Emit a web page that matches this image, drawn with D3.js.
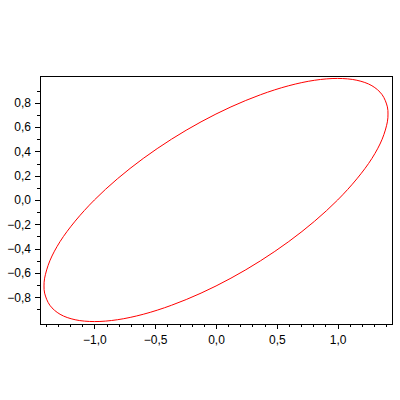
<!DOCTYPE html>
<html>
<head>
<meta charset="utf-8">
<script src="https://cdn.jsdelivr.net/npm/d3@7"></script>
<style>
  html, body { margin: 0; padding: 0; background: #fff; }
  svg { display: block; }
  .tick text { font-family: "Liberation Sans", Arial, sans-serif; font-size: 12px; fill: #000; }
</style>
</head>
<body>
<svg id="chart" width="400" height="400"></svg>
<script>
// Curve points (closed loop)
const curveX = [1.000, 1.158, 1.282, 1.366, 1.409, 1.414, 1.409, 1.366, 1.282, 1.158, 1.000, 0.811, 0.598, 0.366, 0.123, -0.123, -0.366, -0.598, -0.811,
                -1.000, -1.158, -1.282, -1.366, -1.409, -1.414, -1.409, -1.366, -1.282, -1.158, -1.000, -0.811, -0.598, -0.366, -0.123, 0.123, 0.366, 0.598, 0.811];
const curveY = [0.000, 0.174, 0.342, 0.500, 0.643, 0.707, 0.766, 0.866, 0.940, 0.985, 1.000, 0.985, 0.940, 0.866, 0.766, 0.643, 0.500, 0.342, 0.174,
                0.000, -0.174, -0.342, -0.500, -0.643, -0.707, -0.766, -0.866, -0.940, -0.985, -1.000, -0.985, -0.940, -0.866, -0.766, -0.643, -0.500, -0.342, -0.174];

// Tick values and labels
const xMajorTicks = [-1.0, -0.5, 0.0, 0.5, 1.0];
const xMinorTicks = [-1.4, -1.3, -1.2, -1.1, -0.9, -0.8, -0.7, -0.6, -0.4, -0.3, -0.2, -0.1, 0.1, 0.2, 0.3, 0.4, 0.6, 0.7, 0.8, 0.9, 1.1, 1.2, 1.3, 1.4];
const yMajorTicks = [-0.8, -0.6, -0.4, -0.2, 0.0, 0.2, 0.4, 0.6, 0.8];
const yMinorTicks = [-0.9, -0.7, -0.5, -0.3, -0.1, 0.1, 0.3, 0.5, 0.7, 0.9];

const mLeft = 40, mRight = 392, mTop = 76, mBottom = 324;

const x = d3.scaleLinear().domain([-1.447, 1.447]).range([mLeft, mRight]);
const y = d3.scaleLinear().domain([-1.02, 1.02]).range([mBottom, mTop]);

const svg = d3.select("#chart");
const fmt = v => d3.format(".1f")(v).replace(".", ",").replace("-", "\u2212");

// x axis minor & major
svg.append("g").attr("transform", `translate(0,${mBottom})`)
  .call(d3.axisBottom(x).tickValues(xMinorTicks).tickSize(3).tickFormat(""))
  .call(g => g.select(".domain").remove());
svg.append("g").attr("transform", `translate(0,${mBottom})`)
  .call(d3.axisBottom(x).tickValues(xMajorTicks).tickSize(5).tickPadding(6).tickFormat(fmt))
  .call(g => g.select(".domain").remove());

// y axis minor & major
svg.append("g").attr("transform", `translate(${mLeft},0)`)
  .call(d3.axisLeft(y).tickValues(yMinorTicks).tickSize(3).tickFormat(""))
  .call(g => g.select(".domain").remove());
svg.append("g").attr("transform", `translate(${mLeft},0)`)
  .call(d3.axisLeft(y).tickValues(yMajorTicks).tickSize(5).tickPadding(4).tickFormat(fmt))
  .call(g => g.select(".domain").remove());

svg.selectAll(".tick line").attr("stroke", "#000").attr("shape-rendering", "crispEdges");

// frame
svg.append("rect")
  .attr("x", mLeft + 0.5).attr("y", mTop + 0.5)
  .attr("width", mRight - mLeft).attr("height", mBottom - mTop)
  .attr("fill", "none").attr("stroke", "#000").attr("stroke-width", 1)
  .attr("shape-rendering", "crispEdges");

// curve
const pts = curveX.map((v, i) => [v, curveY[i]]);
const line = d3.line().x(d => x(d[0])).y(d => y(d[1])).curve(d3.curveCatmullRomClosed);
svg.append("path")
  .attr("d", line(pts))
  .attr("fill", "none")
  .attr("stroke", "#ff0000")
  .attr("stroke-width", 1);
</script>
</body>
</html>
